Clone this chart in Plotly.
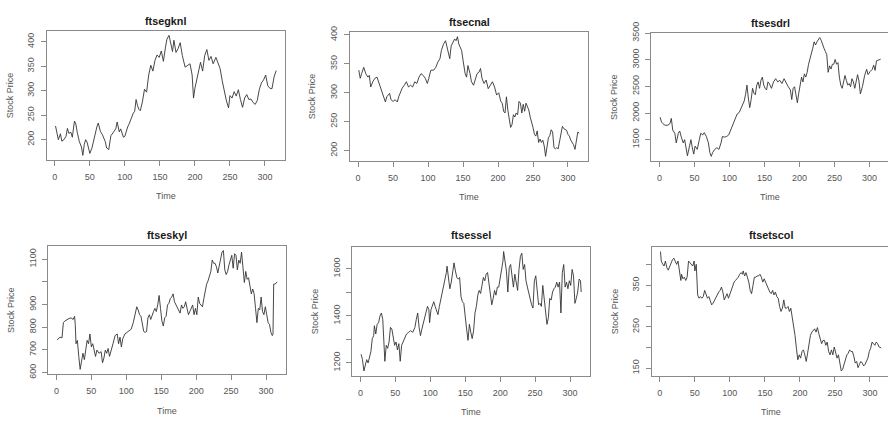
import plotly.graph_objects as go

# ---------------- data ----------------
names = ["ftsegknl", "ftsecnal", "ftsesdrl", "ftseskyl", "ftsessel", "ftsetscol"]

gkn_t = [1,3,5,8,10,13,16,18,20,23,25,28,30,32,35,38,40,42,44,46,48,50,53,55,57,60,62,65,68,70,72,74,77,80,82,84,87,89,92,94,96,98,100,102,104,106,108,110,112,114,116,118,120,122,125,128,131,134,137,140,143,146,149,152,155,158,160,163,166,168,170,173,176,179,182,186,190,193,196,198,200,203,206,208,211,214,217,220,223,226,230,233,236,239,242,245,248,250,253,256,259,262,265,268,271,274,277,280,283,286,289,292,295,298,301,304,307,310,313,316]
gkn_v = [228,215,200,212,197,200,207,223,213,215,205,238,232,215,196,185,168,190,200,195,185,172,183,195,212,226,234,217,210,203,196,183,180,208,212,216,222,236,216,222,212,205,207,218,226,232,240,246,254,258,282,270,262,259,277,303,297,332,352,340,362,373,368,381,360,389,405,413,392,380,403,378,386,398,372,348,352,355,332,285,305,325,348,358,340,372,384,362,370,355,368,358,345,320,299,279,265,290,285,298,289,302,282,266,285,292,282,283,276,272,280,303,316,322,332,310,305,304,328,341]

cna_t = [1,3,5,8,11,14,16,18,21,24,27,30,32,34,36,39,41,43,45,47,50,53,56,58,60,63,66,69,72,75,78,81,84,87,90,93,96,99,101,104,108,111,114,117,119,122,125,127,129,131,133,136,138,140,142,144,146,148,150,153,155,157,160,162,165,168,170,173,175,177,180,183,186,189,192,195,198,201,204,206,208,210,212,214,216,218,220,222,224,226,228,230,232,234,236,238,240,242,244,246,248,250,252,254,256,258,260,262,264,266,268,270,272,274,276,278,280,282,284,286,288,290,292,294,296,298,300,302,304,306,308,310,312,314,316]
cna_v = [339,325,333,344,333,327,330,310,319,325,327,316,310,302,293,284,293,296,299,288,285,288,284,293,299,308,313,319,310,313,310,319,316,327,333,330,325,316,325,339,339,344,353,359,373,384,390,381,370,359,381,390,393,390,397,384,378,373,356,333,327,347,333,319,313,327,333,336,342,325,316,322,307,313,319,310,296,300,285,282,268,265,293,270,250,240,245,262,258,265,262,285,282,265,280,268,282,275,270,258,250,240,228,225,234,214,220,214,218,208,190,205,222,226,236,232,205,203,205,203,218,235,242,238,236,235,228,225,218,214,210,202,218,232,230]

sdr_t = [1,3,5,8,12,15,17,19,22,24,27,29,31,34,36,38,40,43,45,47,49,51,54,57,59,62,64,67,70,72,74,76,79,82,85,88,90,93,96,99,102,105,108,111,114,117,119,121,123,125,127,129,131,133,135,137,139,141,143,145,147,149,151,153,155,157,160,163,166,169,172,175,178,181,184,187,189,191,193,195,197,199,201,203,205,207,209,211,213,215,217,219,221,223,225,227,229,231,233,235,237,239,241,243,245,247,249,251,253,255,257,259,261,263,265,267,269,271,273,275,277,279,281,283,285,287,290,293,296,298,301,304,306,308,310,313,316]
sdr_v = [1922,1831,1801,1771,1771,1801,1900,1681,1620,1440,1620,1663,1560,1440,1500,1319,1199,1380,1500,1349,1229,1380,1319,1500,1620,1590,1633,1560,1440,1259,1187,1259,1319,1349,1319,1440,1560,1548,1560,1590,1681,1771,1892,1982,2012,2102,2132,2223,2343,2524,2283,2102,2253,2464,2373,2343,2524,2584,2464,2614,2675,2524,2464,2434,2584,2554,2464,2584,2645,2584,2614,2554,2645,2554,2494,2434,2253,2464,2494,2343,2193,2373,2554,2675,2584,2735,2675,2765,2916,3006,3126,3217,3337,3277,3337,3367,3416,3367,3277,3217,3157,3096,2765,2886,2825,2916,2916,3006,2916,2946,2675,2524,2464,2614,2705,2614,2524,2554,2494,2645,2584,2464,2600,2720,2600,2360,2500,2700,2820,2720,2780,2820,2900,2800,2980,3000,3010]

sky_t = [1,3,5,8,10,12,15,18,21,24,26,27,28,30,32,34,36,38,40,42,44,46,48,50,52,54,56,58,61,64,66,68,70,72,74,76,78,81,84,87,89,91,93,95,98,101,104,107,110,113,115,117,119,121,123,125,127,129,131,133,135,137,139,141,143,145,147,149,151,153,155,157,159,161,163,165,167,169,171,173,175,177,179,181,183,185,187,189,191,193,195,197,199,201,203,205,207,209,211,213,215,217,219,221,223,225,227,229,231,233,235,237,239,241,243,245,247,249,251,253,255,257,259,261,263,265,267,269,271,273,275,277,279,281,283,285,287,289,291,293,295,297,299,301,303,305,307,309,310,311,313,316]
sky_v = [744,749,756,753,820,827,834,838,841,834,848,812,727,742,671,614,650,685,657,706,742,727,770,713,727,699,671,699,685,692,643,664,699,685,706,671,699,727,763,770,727,756,713,749,770,777,781,791,820,855,890,876,855,848,812,781,777,781,841,855,834,855,869,883,869,898,940,883,827,805,841,848,898,905,926,933,947,912,898,890,869,862,898,883,890,912,883,855,869,883,898,855,883,855,933,905,898,890,926,961,990,1004,1025,1046,1096,1082,1082,1067,1039,1067,1110,1131,1138,1053,1032,1046,1075,1096,1117,1060,1124,1117,1053,1096,1082,1131,1060,997,1046,1011,1018,983,947,968,947,883,820,883,876,933,869,855,890,855,820,812,777,763,770,990,990,1000]

sse_t = [1,3,5,7,9,11,13,15,17,19,20,22,24,26,28,30,32,34,35,37,39,41,43,45,47,49,51,53,55,57,59,61,63,66,69,72,75,78,80,82,84,86,88,91,94,96,98,99,101,103,105,107,109,111,113,115,117,119,121,123,124,126,128,130,132,134,136,138,140,142,144,146,148,150,152,154,156,158,160,162,164,166,168,170,172,174,176,178,180,182,184,186,188,190,192,194,196,198,200,202,204,205,207,209,211,213,215,217,219,221,223,225,227,229,231,233,235,237,239,241,243,245,247,249,251,253,255,257,259,261,263,265,267,269,271,273,275,277,279,281,283,285,287,289,291,293,295,297,299,301,303,305,307,309,311,313,315,316]
sse_v = [1237,1214,1166,1193,1214,1200,1227,1248,1303,1316,1358,1323,1364,1371,1399,1412,1385,1289,1207,1275,1262,1289,1351,1344,1303,1275,1289,1255,1282,1207,1275,1289,1303,1323,1330,1337,1330,1351,1385,1412,1351,1316,1344,1378,1412,1440,1426,1371,1426,1440,1460,1440,1419,1405,1440,1467,1495,1522,1549,1584,1611,1570,1515,1543,1597,1625,1590,1563,1556,1563,1481,1460,1453,1385,1344,1296,1364,1330,1303,1337,1412,1440,1488,1508,1495,1529,1563,1549,1577,1584,1543,1501,1447,1474,1508,1488,1522,1522,1556,1584,1632,1673,1632,1590,1501,1604,1618,1563,1522,1577,1536,1508,1597,1652,1666,1597,1618,1549,1522,1495,1460,1447,1433,1549,1570,1501,1447,1453,1440,1529,1481,1412,1364,1392,1474,1467,1501,1515,1522,1543,1522,1543,1412,1584,1618,1522,1543,1515,1549,1529,1597,1570,1453,1474,1501,1556,1549,1501]

tsc_t = [1,2,4,6,8,10,12,14,16,18,20,22,24,26,28,30,31,33,35,37,39,41,43,45,47,49,50,52,54,56,58,60,62,64,66,68,70,72,74,76,78,80,82,84,86,88,90,92,94,96,98,100,102,104,106,108,110,112,114,116,118,119,121,123,125,127,129,131,133,135,137,139,141,143,145,147,149,151,153,155,157,159,161,163,165,167,169,171,173,175,177,179,181,183,185,187,189,191,193,195,197,199,201,203,205,207,209,211,213,215,217,219,221,223,225,227,229,231,233,235,237,239,241,243,245,247,249,251,253,255,257,259,261,263,265,267,269,271,273,275,277,279,281,283,285,287,289,291,293,295,297,299,301,303,305,307,309,311,313,316]
tsc_v = [432,409,402,397,409,393,387,397,405,412,416,410,401,409,389,362,377,366,370,362,370,409,405,401,397,409,385,401,327,319,323,319,323,338,327,319,323,315,303,307,315,319,327,334,338,346,334,315,323,330,319,330,342,350,358,362,366,370,377,381,377,385,373,381,370,358,338,330,350,370,370,373,373,377,370,358,366,358,350,338,334,330,338,327,334,323,319,299,287,295,315,295,295,299,287,295,276,256,229,198,170,182,174,190,194,182,166,186,205,229,237,241,245,237,248,233,221,209,217,217,205,213,190,182,194,182,201,190,174,182,162,143,147,159,170,182,186,194,190,190,178,162,166,151,159,166,162,155,159,166,174,190,198,213,209,205,213,209,201,199]

series_t = [gkn_t, cna_t, sdr_t, sky_t, sse_t, tsc_t]
series_v = [gkn_v, cna_v, sdr_v, sky_v, sse_v, tsc_v]

x_ticks = [0, 50, 100, 150, 200, 250, 300]
y_tickvals = [
    [200, 250, 300, 350, 400],
    [200, 250, 300, 350, 400],
    [1500, 2000, 2500, 3000, 3500],
    [600, 700, 800, 900, 1000, 1100],
    [1200, 1300, 1400, 1500, 1600],
    [150, 200, 250, 300, 350, 400],
]
y_ticktext = [
    ["200", "250", "300", "350", "400"],
    ["200", "250", "300", "350", "400"],
    ["1500", "2000", "2500", "3000", "3500"],
    ["600", "700", "800", "900", "", "1100"],
    ["1200", "", "1400", "", "1600"],
    ["150", "", "250", "", "350", ""],
]

# ---------------- layout (pixel boxes of each panel) ----------------
W, H = 888, 425
# left, right, top, bottom (px)
boxes = [
    (46.7, 285.0, 20.3, 155.0),
    (350.0, 588.0, 21.7, 156.0),
    (651.3, 889.5, 22.7, 156.0),
    (48.3, 286.0, 244.0, 377.3),
    (352.3, 590.0, 245.0, 379.0),
    (651.7, 890.0, 245.0, 379.0),
]
title_y = [10.7, 11.7, 12.7, 232.7, 232.7, 232.7]
time_y = [192.3, 193.3, 193.3, 416.0, 416.7, 416.7]
ylab_x = [10.0, 311.7, 614.0, 11.0, 315.0, 615.0]

BOX = "#8a8a8a"
TXT = "#555555"
LINE = "#333333"
FONT = "Liberation Sans, Arial, sans-serif"

fig = go.Figure()
annotations = []
layout_axes = {}

for i in range(6):
    t = series_t[i]
    v = series_v[i]
    n = i + 1
    xa = "x" if n == 1 else f"x{n}"
    ya = "y" if n == 1 else f"y{n}"
    fig.add_trace(go.Scatter(x=t, y=v, mode="lines", xaxis=xa, yaxis=ya,
                             line=dict(color=LINE, width=0.9), showlegend=False,
                             hoverinfo="skip"))
    L, R, T, B = boxes[i]
    tmin, tmax = min(t), max(t)
    vmin, vmax = min(v), max(v)
    xr = [tmin - 0.04 * (tmax - tmin), tmax + 0.04 * (tmax - tmin)]
    yr = [vmin - 0.04 * (vmax - vmin), vmax + 0.04 * (vmax - vmin)]
    Rc = min(R, W)
    if Rc < R:
        xr[1] = xr[0] + (xr[1] - xr[0]) * (Rc - L) / (R - L)
    xdom = [L / W, Rc / W]
    ydom = [1 - B / H, 1 - T / H]
    cut = Rc < R
    layout_axes["xaxis" if n == 1 else f"xaxis{n}"] = dict(
        domain=xdom, range=xr, anchor=ya, showgrid=False, zeroline=False,
        showline=True, linecolor=BOX, linewidth=1, mirror=True,
        ticks="outside", ticklen=5, tickcolor=BOX, tickwidth=1,
        tickvals=x_ticks, ticktext=[str(k) for k in x_ticks],
        tickfont=dict(family=FONT, size=9, color=TXT), ticklabelstandoff=3,
        fixedrange=True)
    layout_axes["yaxis" if n == 1 else f"yaxis{n}"] = dict(
        domain=ydom, range=yr, anchor=xa, showgrid=False, zeroline=False,
        showline=True, linecolor=BOX, linewidth=1, mirror=not cut,
        ticks="outside", ticklen=5, tickcolor=BOX, tickwidth=1,
        tickvals=y_tickvals[i], ticktext=y_ticktext[i], tickangle=-90,
        tickfont=dict(family=FONT, size=9, color=TXT), ticklabelstandoff=3,
        fixedrange=True)
    cx = (L + R) / 2
    cy = (T + B) / 2
    annotations.append(dict(text=names[i], x=cx / W, y=1 - title_y[i] / H, xref="paper", yref="paper",
                            xanchor="center", yanchor="middle", showarrow=False,
                            font=dict(family=FONT, size=10.8, color="#1a1a1a", weight="bold")))
    annotations.append(dict(text="Time", x=cx / W, y=1 - time_y[i] / H, xref="paper", yref="paper",
                            xanchor="center", yanchor="middle", showarrow=False,
                            font=dict(family=FONT, size=9, color=TXT)))
    annotations.append(dict(text="Stock Price", x=ylab_x[i] / W, y=1 - cy / H, xref="paper", yref="paper",
                            xanchor="center", yanchor="middle", showarrow=False, textangle=-90,
                            font=dict(family=FONT, size=9, color=TXT)))

fig.update_layout(width=W, height=H, margin=dict(l=0, r=0, t=0, b=0),
                  paper_bgcolor="white", plot_bgcolor="white",
                  annotations=annotations, **layout_axes)

fig.write_html("out.html", config={"displayModeBar": False},
               post_script="document.body.style.margin='0';document.body.style.overflow='hidden';")
